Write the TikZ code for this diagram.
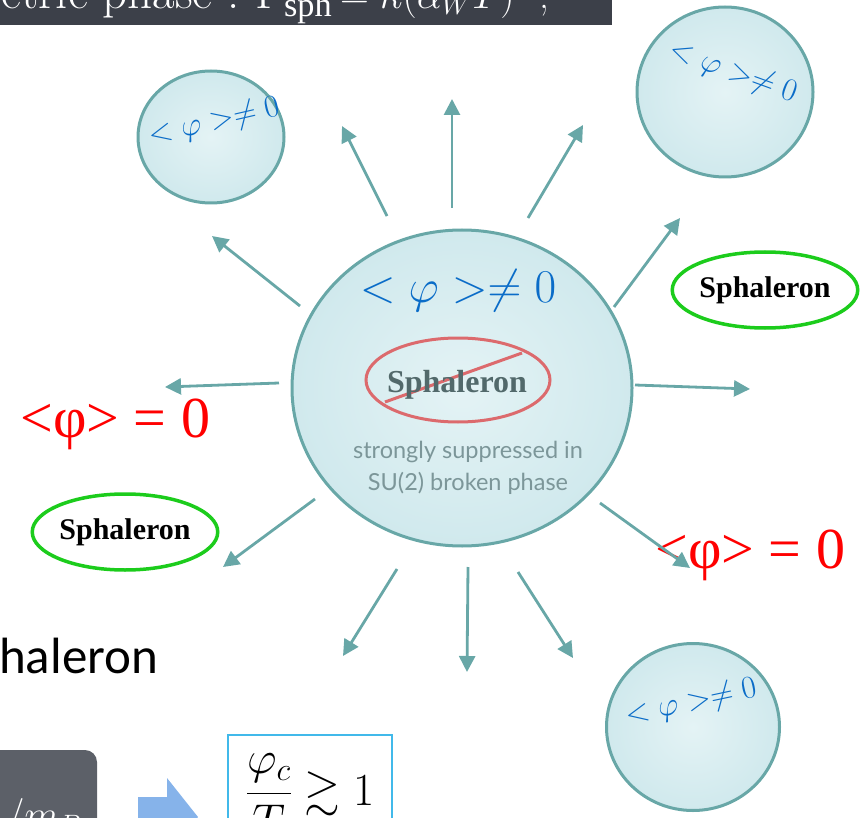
\RequirePackage{fix-cm}
\documentclass[tikz,border=0pt]{standalone}
\usepackage{amsmath,amssymb}
\usepackage{fontspec}
\setmainfont{Liberation Serif}
\newfontfamily\cmroman{Latin Modern Roman}
\newfontfamily\calibri{Carlito}
\newfontfamily\gill{Lato}
\usetikzlibrary{arrows.meta,shapes.geometric}

\definecolor{rimteal}{HTML}{68A7A7}
\definecolor{wallfill}{HTML}{D0E9ED}
\definecolor{wallin}{HTML}{E4F3F5}
\definecolor{vevblue}{HTML}{0A6CC8}
\definecolor{crossred}{HTML}{DC6A6D}
\definecolor{sphgray}{HTML}{52696B}
\definecolor{notegray}{HTML}{7C9699}
\definecolor{leaf}{HTML}{1CCC1C}
\definecolor{slate}{HTML}{3C4049}
\definecolor{boxgray}{HTML}{5C6068}
\definecolor{arrowblue}{HTML}{86B3EA}
\definecolor{framecyan}{HTML}{41B9EA}

\begin{document}
\begin{tikzpicture}[
  x=1pt, y=-1pt,
  bubble/.style={ellipse, draw=rimteal, line width=3pt, inner sep=0pt,
    inner color=wallin, outer color=wallfill},
  vev/.style={text=vevblue, font=\fontsize{32}{34}\selectfont},
  spha/.style={ellipse, draw=leaf, line width=3.5pt, inner sep=0pt,
    minimum width=174pt, minimum height=76pt,
    font=\bfseries\fontsize{30}{32}\selectfont},
  nullvev/.style={anchor=base west, text=red, font=\fontsize{58}{60}\selectfont},
  note/.style={anchor=base, inner sep=0pt, text=notegray, font=\gill\fontsize{23.5}{25}\selectfont},
  ray/.style={draw=rimteal, line width=2.8pt, -{Triangle[length=16pt,width=16pt]}}
]
  \useasboundingbox (0,0) rectangle (862,818);
  \clip (0,0) rectangle (862,818);

  % slide remains
  \fill[slate] (0,0) rectangle (612,25);
  \node[anchor=base west, inner sep=0pt, text=white, font=\cmroman\fontsize{49}{52}\selectfont]
    (rate) at (1,9) {etric phase :\hspace{16pt}$\Gamma_{\mathrm{sph}}$};
  \node[anchor=base west, inner sep=0pt, text=white, font=\cmroman\fontsize{40}{44}\selectfont]
    (rhs) at (340,9) {$=\kappa(\alpha_W T)^4$ ;};
  \node[anchor=base west, inner sep=0pt, font=\calibri\fontsize{51}{55}\selectfont]
    (title) at (-1,673) {haleron};
  \fill[boxgray, rounded corners=12pt] (-20,750) rectangle (97,860);
  \node[anchor=base west, inner sep=0pt, text=white, font=\fontsize{40}{44}\selectfont]
    (mass) at (6,828) {$/m_B$};
  \fill[arrowblue] (138,797) -- (167,797) -- (167,778) -- (198,817)
    -- (167,856) -- (167,837) -- (138,837) -- cycle;
  \draw[framecyan, line width=1.5pt] (228,735) rectangle (392,860);
  \node[anchor=base, inner sep=0pt, font=\fontsize{46}{50}\selectfont]
    (crit) at (310,805) {$\displaystyle\frac{\varphi_c}{T}\gtrsim 1$};

  % broken phase bubbles
  \node[bubble, minimum width=340pt, minimum height=316pt] (core) at (462,388) {};
  \node[bubble, minimum width=146pt, minimum height=132pt] (bubA) at (211,137) {};
  \node[bubble, minimum width=176pt, minimum height=170pt] (bubB) at (725,92) {};
  \node[bubble, minimum width=173pt, minimum height=167pt] (bubC) at (693,727) {};

  \node[vev, rotate=13] (vevA) at (214,122) {$<\varphi>\neq 0$};
  \node[vev, rotate=-20] (vevB) at (733,72) {$<\varphi>\neq 0$};
  \node[vev, rotate=12] (vevC) at (691,703) {$<\varphi>\neq 0$};

  % inside the big one
  \node[anchor=base, inner sep=0pt, text=vevblue, font=\fontsize{47}{50}\selectfont]
    (vev) at (458,302) {$<\varphi>\neq 0$};
  \draw[crossred, line width=3pt] (458,380) ellipse [x radius=92, y radius=42];
  \draw[crossred, line width=3pt] (385,402) -- (522,353);
  \node[anchor=base, inner sep=0pt, text=sphgray, font=\bfseries\fontsize{32}{34}\selectfont]
    (dead) at (457,392) {Sphaleron};
  \node[note] (note1) at (468,458) {strongly suppressed in};
  \node[note] (note2) at (468,490) {SU(2) broken phase};

  % symmetric phase outside
  \node[spha] (sphR) at (765,290) {Sphaleron};
  \node[spha] (sphL) at (125,532) {Sphaleron};
  \node[nullvev] (zeroL) at (17,437) {<φ> = 0};
  \node[nullvev] (zeroR) at (652,568) {<φ> = 0};

  % expansion
  \foreach \sx/\sy/\tx/\ty in {452/208/452/99, 387/216/342/126, 528/218/583/125,
      300/306/212/236, 614/307/680/218, 279/383/165/387, 635/385/750/389,
      315/499/223/567, 600/503/690/568, 397/569/343/656, 468/567/467/672,
      518/572/573/658}
    \draw[ray] (\sx,\sy) -- (\tx,\ty);
\end{tikzpicture}
\end{document}
